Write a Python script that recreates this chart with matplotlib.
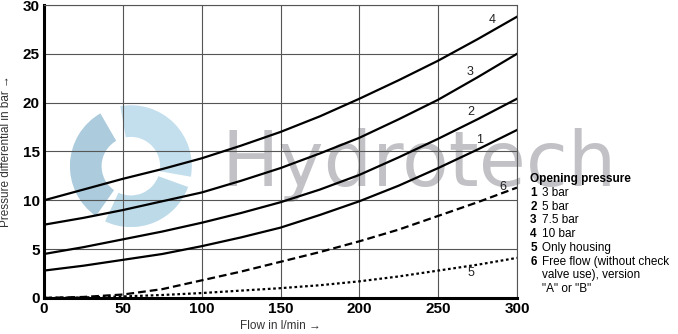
import matplotlib
matplotlib.use("Agg")
import matplotlib.pyplot as plt
from matplotlib.patches import Wedge

flow = [0, 25, 50, 75, 100, 125, 150, 175, 200, 225, 250, 275, 300]
curve_1 = [2.8, 3.3, 3.9, 4.5, 5.3, 6.2, 7.2, 8.5, 9.9, 11.5, 13.3, 15.2, 17.2]
curve_2 = [4.5, 5.2, 6.0, 6.8, 7.7, 8.7, 9.8, 11.1, 12.6, 14.4, 16.3, 18.3, 20.4]
curve_3 = [7.5, 8.2, 9.0, 9.9, 10.8, 12.0, 13.3, 14.8, 16.4, 18.3, 20.3, 22.6, 25.0]
curve_4 = [10.0, 11.1, 12.2, 13.2, 14.3, 15.6, 17.0, 18.6, 20.4, 22.3, 24.3, 26.5, 28.8]
curve_5 = [0.0, 0.05, 0.15, 0.3, 0.5, 0.75, 1.0, 1.3, 1.7, 2.2, 2.8, 3.4, 4.1]
curve_6 = [0.0, 0.1, 0.35, 0.9, 1.8, 2.7, 3.7, 4.7, 5.8, 7.0, 8.4, 9.8, 11.3]

x_ticks = [0, 50, 100, 150, 200, 250, 300]
y_ticks = [0, 5, 10, 15, 20, 25, 30]

legend_nums = ["1", "2", "3", "4", "5", "6"]
legend_texts = ["3 bar", "5 bar", "7.5 bar", "10 bar", "Only housing",
                "Free flow (without check\nvalve use), version\n\"A\" or \"B\""]

plt.rcParams['font.family'] = ['Liberation Sans', 'DejaVu Sans']

fig = plt.figure(figsize=(6.78, 3.34), dpi=100)

# watermark logo (rough swirl) on its own equal-aspect axes
lax = fig.add_axes([0.103, 0.32, 0.18, 0.365], zorder=0)
lax.set_xlim(-1, 1)
lax.set_ylim(-1, 1)
lax.set_aspect("equal")
lax.axis("off")
for th1, th2, col in [(-10, 100, "#b9d9ea"), (120, 235, "#9ec2d6"), (245, 340, "#b2d4e6")]:
    lax.add_patch(Wedge((0, 0), 1.0, th1, th2, width=0.52, facecolor=col,
                        alpha=0.85, edgecolor="none"))
fig.text(0.327, 0.505, "Hydrotech", fontsize=55, color="#c2c2c6", va="center",
         ha="left", family="DejaVu Sans", zorder=0)

ax = fig.add_axes([0.065, 0.108, 0.6975, 0.877], zorder=1)
ax.set_facecolor("none")
lw = 1.6
ax.plot(flow, curve_1, color="black", lw=lw)
ax.plot(flow, curve_2, color="black", lw=lw)
ax.plot(flow, curve_3, color="black", lw=lw)
ax.plot(flow, curve_4, color="black", lw=lw)
ax.plot(flow, curve_5, color="black", lw=lw, linestyle=(0, (1.2, 1.2)))
ax.plot(flow, curve_6, color="black", lw=lw, linestyle=(0, (3.5, 1.8)))

# curve labels
for lab, xx, yy in [("4", 284, 28.5), ("3", 270, 23.1), ("2", 271, 19.0),
                    ("1", 276, 16.2), ("6", 291, 11.4), ("5", 271, 2.6)]:
    ax.text(xx, yy, lab, fontsize=9, color="#222222", ha="center", va="center")

ax.set_xlim(0, 300)
ax.set_ylim(0, 30)
ax.set_xticks(x_ticks)
ax.set_yticks(y_ticks)
ax.grid(True, color="#555555", lw=0.8)
ax.tick_params(length=0, labelsize=11, pad=3)
for lab in ax.get_xticklabels() + ax.get_yticklabels():
    lab.set_fontweight("bold")
for s in ["left", "bottom"]:
    ax.spines[s].set_linewidth(2.2)
for s in ["top", "right"]:
    ax.spines[s].set_linewidth(0.8)
    ax.spines[s].set_color("#555555")

ax.set_xlabel("Flow in l/min \u2192", fontsize=8.5, color="#333333", labelpad=3)
ax.set_ylabel("Pressure differential in bar \u2192", fontsize=8.5, color="#333333")
ax.yaxis.set_label_coords(-0.068, 0.5)

# legend block
fig.text(0.782, 0.464, "Opening pressure", fontsize=8.5, fontweight="bold",
         va="center")
y = 0.441
for num, txt in zip(legend_nums, legend_texts):
    fig.text(0.782, y, num, fontsize=8.5, fontweight="bold", va="top")
    fig.text(0.799, y, txt, fontsize=8.5, va="top", linespacing=1.2)
    y -= 0.0413

fig.savefig("out.png", dpi=100)
